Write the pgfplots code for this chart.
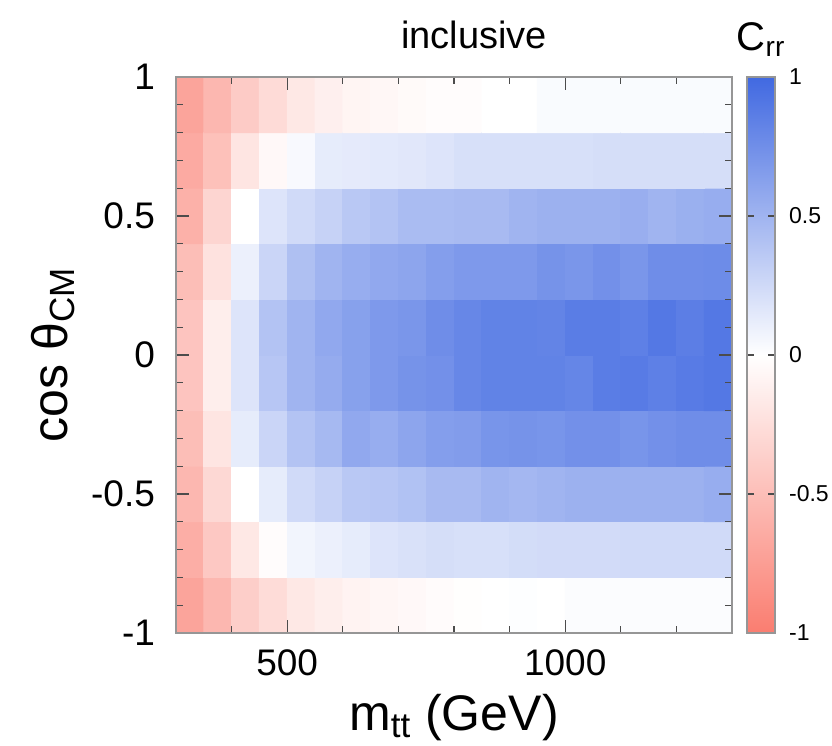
\documentclass[border=0pt]{standalone}
\usepackage{fontspec}
\setmainfont{Liberation Sans}
\usepackage{pgfplots}
\pgfplotsset{compat=1.18}

\definecolor{framegray}{RGB}{150,150,150}
\pgfplotsset{
  colormap={crr}{rgb255=(250,125,112) rgb255=(255,255,255) rgb255=(65,105,225)},
}

\begin{document}
\begin{tikzpicture}
\useasboundingbox (-88pt,-56.5pt) rectangle (328pt,316.5pt);
\begin{axis}[
  at={(0,0)}, anchor=south west,
  scale only axis, width=278pt, height=278pt,
  xmin=300, xmax=1300, ymin=-1, ymax=1,
  xtick={500,1000},
  minor xtick={400,600,700,800,900,1100,1200},
  ytick={-1,-0.5,0,0.5,1},
  minor ytick={-0.9,-0.8,-0.7,-0.6,-0.4,-0.3,-0.2,-0.1,0.1,0.2,0.3,0.4,0.6,0.7,0.8,0.9},
  tick align=inside,
  major tick length=6.5pt, minor tick length=3.5pt,
  axis line style={framegray, line width=0.9pt},
  every tick/.style={black!70, line width=0.6pt},
  scaled ticks=false,
  /pgf/number format/1000 sep={},
  /pgf/number format/assume math mode=true,
  ticklabel style={font=\fontsize{18.5}{20}\selectfont},
  yticklabel style={xshift=-7pt},
  xticklabel style={yshift=-5pt},
  title={inclusive},
  title style={at={(0.536,1)}, anchor=base, yshift=8.5pt,
    font=\fontsize{19}{22}\selectfont},
  xlabel={m\textsubscript{tt} (GeV)},
  xlabel style={at={(0.5,-0.1745)}, anchor=base,
    font=\fontsize{25}{28}\selectfont},
  ylabel={cos θ\textsubscript{CM}},
  ylabel style={at={(-0.196,0.5)}, anchor=base,
    font=\fontsize{25}{28}\selectfont},
  axis on top,
  colormap name=crr,
  point meta min=-1, point meta max=1,
  colorbar,
  colorbar style={
    at={(parent axis.north east)}, anchor=north west, xshift=-1pt,
    width=14pt,
    ytick={-1,-0.5,0,0.5,1},
    tick align=inside,
    ytick pos=both,
    yticklabel pos=right,
    major tick length=3.5pt,
    axis line style={framegray, line width=0.9pt},
    every tick/.style={black!70, line width=0.6pt},
    /pgf/number format/assume math mode=true,
    yticklabel style={font=\fontsize{11.5}{13}\selectfont, xshift=3.5pt},
    title={C\textsubscript{rr}},
    title style={at={(0.5,1)}, anchor=base, yshift=7.5pt,
      font=\fontsize{20}{22}\selectfont},
  },
]
\addplot[matrix plot*, mesh/cols=20, point meta=explicit] coordinates {
(325,-0.9)[-0.70] (375,-0.9)[-0.55] (425,-0.9)[-0.38] (475,-0.9)[-0.27] (525,-0.9)[-0.18] (575,-0.9)[-0.13] (625,-0.9)[-0.09] (675,-0.9)[-0.07] (725,-0.9)[-0.05] (775,-0.9)[-0.03] (825,-0.9)[-0.01] (875,-0.9)[0.00] (925,-0.9)[0.01] (975,-0.9)[0.00] (1025,-0.9)[0.02] (1075,-0.9)[0.02] (1125,-0.9)[0.02] (1175,-0.9)[0.02] (1225,-0.9)[0.02] (1275,-0.9)[0.02]
(325,-0.7)[-0.62] (375,-0.7)[-0.42] (425,-0.7)[-0.18] (475,-0.7)[-0.02] (525,-0.7)[0.07] (575,-0.7)[0.10] (625,-0.7)[0.13] (675,-0.7)[0.18] (725,-0.7)[0.20] (775,-0.7)[0.22] (825,-0.7)[0.21] (875,-0.7)[0.21] (925,-0.7)[0.23] (975,-0.7)[0.24] (1025,-0.7)[0.24] (1075,-0.7)[0.24] (1125,-0.7)[0.25] (1175,-0.7)[0.25] (1225,-0.7)[0.25] (1275,-0.7)[0.25]
(325,-0.5)[-0.55] (375,-0.5)[-0.30] (425,-0.5)[0.00] (475,-0.5)[0.13] (525,-0.5)[0.25] (575,-0.5)[0.30] (625,-0.5)[0.37] (675,-0.5)[0.38] (725,-0.5)[0.41] (775,-0.5)[0.46] (825,-0.5)[0.46] (875,-0.5)[0.50] (925,-0.5)[0.48] (975,-0.5)[0.50] (1025,-0.5)[0.52] (1075,-0.5)[0.52] (1125,-0.5)[0.52] (1175,-0.5)[0.52] (1225,-0.5)[0.52] (1275,-0.5)[0.55]
(325,-0.3)[-0.50] (375,-0.3)[-0.20] (425,-0.3)[0.13] (475,-0.3)[0.28] (525,-0.3)[0.40] (575,-0.3)[0.47] (625,-0.3)[0.58] (675,-0.3)[0.55] (725,-0.3)[0.60] (775,-0.3)[0.65] (825,-0.3)[0.66] (875,-0.3)[0.71] (925,-0.3)[0.72] (975,-0.3)[0.71] (1025,-0.3)[0.74] (1075,-0.3)[0.74] (1125,-0.3)[0.71] (1175,-0.3)[0.74] (1225,-0.3)[0.76] (1275,-0.3)[0.76]
(325,-0.1)[-0.45] (375,-0.1)[-0.13] (425,-0.1)[0.18] (475,-0.1)[0.38] (525,-0.1)[0.50] (575,-0.1)[0.56] (625,-0.1)[0.63] (675,-0.1)[0.68] (725,-0.1)[0.72] (775,-0.1)[0.74] (825,-0.1)[0.80] (875,-0.1)[0.83] (925,-0.1)[0.83] (975,-0.1)[0.83] (1025,-0.1)[0.81] (1075,-0.1)[0.87] (1125,-0.1)[0.88] (1175,-0.1)[0.85] (1225,-0.1)[0.88] (1275,-0.1)[0.90]
(325,0.1)[-0.45] (375,0.1)[-0.13] (425,0.1)[0.18] (475,0.1)[0.40] (525,0.1)[0.50] (575,0.1)[0.58] (625,0.1)[0.63] (675,0.1)[0.68] (725,0.1)[0.70] (775,0.1)[0.76] (825,0.1)[0.80] (875,0.1)[0.83] (925,0.1)[0.83] (975,0.1)[0.82] (1025,0.1)[0.87] (1075,0.1)[0.87] (1125,0.1)[0.85] (1175,0.1)[0.90] (1225,0.1)[0.86] (1275,0.1)[0.90]
(325,0.3)[-0.50] (375,0.3)[-0.22] (425,0.3)[0.10] (475,0.3)[0.28] (525,0.3)[0.42] (575,0.3)[0.50] (625,0.3)[0.55] (675,0.3)[0.58] (725,0.3)[0.60] (775,0.3)[0.65] (825,0.3)[0.68] (875,0.3)[0.68] (925,0.3)[0.68] (975,0.3)[0.72] (1025,0.3)[0.70] (1075,0.3)[0.74] (1125,0.3)[0.70] (1175,0.3)[0.76] (1225,0.3)[0.76] (1275,0.3)[0.77]
(325,0.5)[-0.60] (375,0.5)[-0.32] (425,0.5)[0.00] (475,0.5)[0.18] (525,0.5)[0.25] (575,0.5)[0.30] (625,0.5)[0.37] (675,0.5)[0.40] (725,0.5)[0.45] (775,0.5)[0.45] (825,0.5)[0.46] (875,0.5)[0.46] (925,0.5)[0.50] (975,0.5)[0.52] (1025,0.5)[0.52] (1075,0.5)[0.52] (1125,0.5)[0.54] (1175,0.5)[0.50] (1225,0.5)[0.53] (1275,0.5)[0.55]
(325,0.7)[-0.65] (375,0.7)[-0.48] (425,0.7)[-0.20] (475,0.7)[-0.05] (525,0.7)[0.04] (575,0.7)[0.13] (625,0.7)[0.14] (675,0.7)[0.15] (725,0.7)[0.16] (775,0.7)[0.18] (825,0.7)[0.21] (875,0.7)[0.21] (925,0.7)[0.21] (975,0.7)[0.21] (1025,0.7)[0.21] (1075,0.7)[0.22] (1125,0.7)[0.22] (1175,0.7)[0.22] (1225,0.7)[0.22] (1275,0.7)[0.22]
(325,0.9)[-0.70] (375,0.9)[-0.55] (425,0.9)[-0.40] (475,0.9)[-0.28] (525,0.9)[-0.18] (575,0.9)[-0.12] (625,0.9)[-0.08] (675,0.9)[-0.06] (725,0.9)[-0.04] (775,0.9)[-0.02] (825,0.9)[-0.02] (875,0.9)[0.00] (925,0.9)[0.00] (975,0.9)[0.03] (1025,0.9)[0.03] (1075,0.9)[0.03] (1125,0.9)[0.03] (1175,0.9)[0.03] (1225,0.9)[0.03] (1275,0.9)[0.03]
};
\end{axis}
\end{tikzpicture}
\end{document}
